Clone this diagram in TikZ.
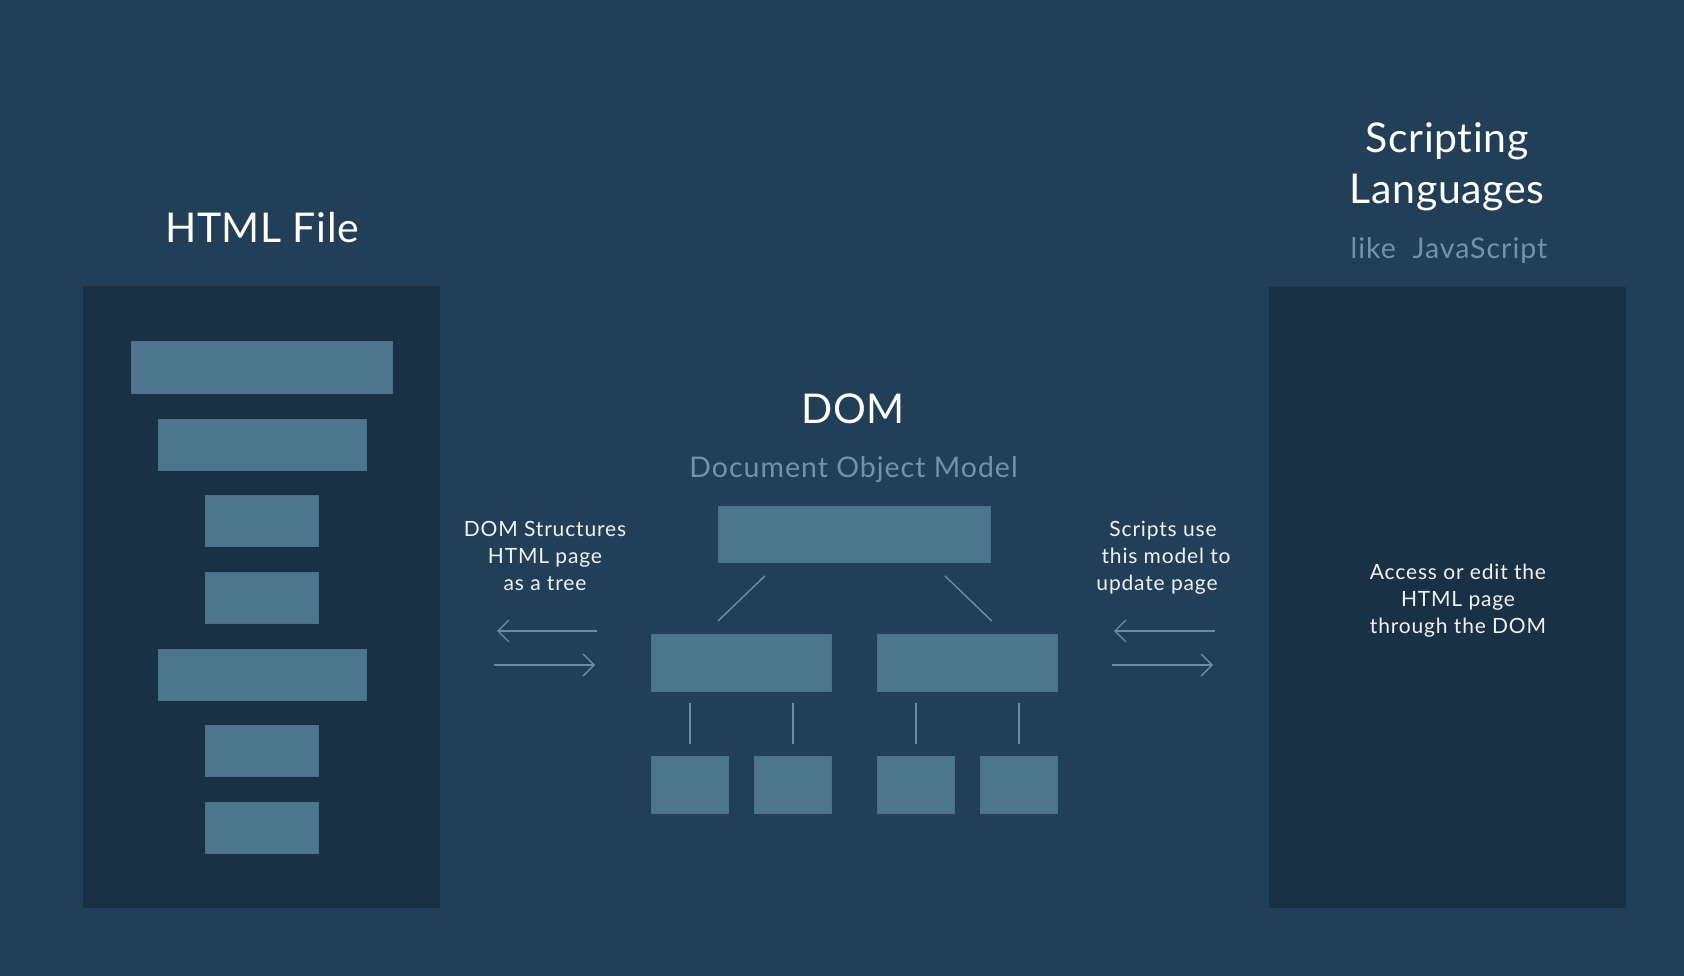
\documentclass[tikz,border=0pt]{standalone}
\usepackage{fontspec}
\setmainfont{Lato}[Ligatures=NoCommon]
\usetikzlibrary{arrows.meta,calc}
\definecolor{bgc}{HTML}{213F56}
\definecolor{panelc}{HTML}{183145}
\definecolor{barc}{HTML}{4D768D}
\definecolor{barline}{HTML}{47708A}
\definecolor{subc}{HTML}{7093AA}
\definecolor{linec}{HTML}{6A8DA5}
\definecolor{labc}{HTML}{EEF3F6}
\tikzset{
  panel/.style={fill=panelc, draw=none, inner sep=0pt, anchor=north west},
  bar/.style={fill=barc, draw=barline, line width=0.8pt, inner sep=0pt, anchor=north west},
  title/.style={text=white, font=\fontsize{41}{51}\selectfont\addfontfeature{LetterSpace=1.5}, anchor=base, inner sep=0pt},
  subtitle/.style={text=subc, font=\fontsize{28.5}{34}\selectfont\addfontfeature{LetterSpace=3.5}, anchor=base, inner sep=0pt},
  label/.style={text=labc, font=\fontsize{21}{27}\selectfont\addfontfeature{LetterSpace=4}, anchor=base, inner sep=0pt},
  treeline/.style={draw=linec, line width=1.4pt},
  flow/.style={draw=linec, line width=1.4pt, -{Straight Barb[length=11pt,width=22pt,line width=1.4pt]}}
}
\begin{document}
\begin{tikzpicture}[x=1pt,y=-1pt]
\fill[bgc] (0,0) rectangle (1684,976);
\useasboundingbox (0,0) rectangle (1684,976);
% panels
\node[panel, minimum width=357pt, minimum height=622pt] (html) at (83,286) {};
\node[panel, minimum width=357pt, minimum height=621pt] (script) at (1269,287) {};
% html bars
\node[bar, minimum width=261pt, minimum height=52pt] (b1) at (131,341) {};
\node[bar, minimum width=208pt, minimum height=51pt] (b2) at (158,419) {};
\node[bar, minimum width=113pt, minimum height=51pt] (b3) at (205,495) {};
\node[bar, minimum width=113pt, minimum height=51pt] (b4) at (205,572) {};
\node[bar, minimum width=208pt, minimum height=51pt] (b5) at (158,649) {};
\node[bar, minimum width=113pt, minimum height=51pt] (b6) at (205,725) {};
\node[bar, minimum width=113pt, minimum height=51pt] (b7) at (205,802) {};
% titles
\node[title] (htmlt) at (262,243) {HTML File};
\node[title] (domt) at (853,423) {DOM};
\node[subtitle] (doms) at (853.5,477) {Document Object Model};
\node[title] (scr1) at (1447,153) {Scripting};
\node[title] (scr2) at (1447,204) {Languages};
\node[subtitle] (scrs) at (1449,259) {like\ \ JavaScript};
% tree
\node[bar, minimum width=272pt, minimum height=56pt] (top) at (718,506) {};
\node[bar, minimum width=180pt, minimum height=57pt] (midL) at (651,634) {};
\node[bar, minimum width=180pt, minimum height=57pt] (midR) at (877,634) {};
\node[bar, minimum width=77pt, minimum height=57pt] (l1) at (651,756) {};
\node[bar, minimum width=77pt, minimum height=57pt] (l2) at (754,756) {};
\node[bar, minimum width=77pt, minimum height=57pt] (l3) at (877,756) {};
\node[bar, minimum width=77pt, minimum height=57pt] (l4) at (980,756) {};
\draw[treeline] ([xshift=47pt,yshift=-13pt]top.south west) -- ([xshift=67pt,yshift=13pt]midL.north west);
\draw[treeline] ([xshift=-46pt,yshift=-13pt]top.south east) -- ([xshift=-66pt,yshift=13pt]midR.north east);
\foreach \l/\m in {l1/midL,l2/midL,l3/midR,l4/midR}{
  \draw[treeline, shorten >=11pt, shorten <=12pt] (\l.north) -- (\l.north |- \m.south);
}
% labels
\node[label] (la1) at (545,536) {DOM Structures};
\node[label] (la2) at (545,563) {HTML page};
\node[label] (la3) at (545,590) {as a tree};
\node[label] (ra1) at (1163,536) {Scripts use};
\node[label] (ra2) at (1166,563) {this model to};
\node[label] (ra3) at (1157,590) {update page};
\node[label] (ac1) at (1458,579) {Access or edit the};
\node[label] (ac2) at (1458,606) {HTML page};
\node[label] (ac3) at (1458,633) {through the DOM};
% arrows
\coordinate (a1s) at (597,631); \coordinate (a1e) at (497,631);
\coordinate (a2s) at (494,665); \coordinate (a2e) at (595,665);
\coordinate (a3s) at (1215,631); \coordinate (a3e) at (1114,631);
\coordinate (a4s) at (1112,665); \coordinate (a4e) at (1213,665);
\draw[flow] (a1s) -- (a1e);
\draw[flow] (a2s) -- (a2e);
\draw[flow] (a3s) -- (a3e);
\draw[flow] (a4s) -- (a4e);
\end{tikzpicture}
\end{document}
